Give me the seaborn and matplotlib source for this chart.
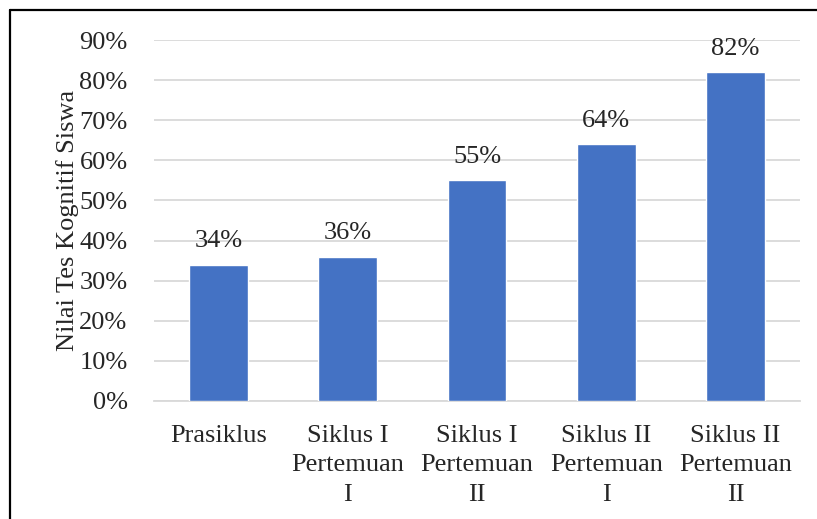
import pandas as pd
import matplotlib.pyplot as plt
import seaborn as sns
from matplotlib.lines import Line2D
from matplotlib.ticker import PercentFormatter

# Data
categories = ["Prasiklus", "Siklus I\nPertemuan\nI", "Siklus I\nPertemuan\nII",
              "Siklus II\nPertemuan\nI", "Siklus II\nPertemuan\nII"]
nilai = [34, 36, 55, 64, 82]

df = pd.DataFrame({"Tahap": categories, "Nilai": nilai})

sns.set_style("white")
plt.rcParams['font.family'] = ['Liberation Serif', 'DejaVu Serif']

fs = 19

fig = plt.figure(figsize=(8.17, 5.19), dpi=100)
ax = fig.add_axes([0.1885, 0.2274, 0.7907, 0.6955])

sns.barplot(data=df, x="Tahap", y="Nilai", color="#4472C4",
            width=0.455, saturation=1, ax=ax, zorder=3)

for c in ax.containers:
    ax.bar_label(c, labels=[f"{v}%" for v in nilai], padding=9, fontsize=fs)

ax.set_ylim(0, 90)
ax.set_yticks(range(0, 91, 10))
ax.yaxis.set_major_formatter(PercentFormatter(decimals=0))
ax.grid(axis='y', color='#d9d9d9', linewidth=1.3, zorder=0)
ax.set_axisbelow(True)

for s in ['top', 'right', 'left']:
    ax.spines[s].set_visible(False)
ax.spines['bottom'].set_color('#d9d9d9')
ax.spines['bottom'].set_linewidth(1.3)

ax.tick_params(axis='y', length=0, pad=19, labelsize=fs)
ax.tick_params(axis='x', length=0, pad=17, labelsize=fs)
for t in ax.get_xticklabels():
    t.set_linespacing(1.45)

ax.set_xlabel("")
ax.set_ylabel("Nilai Tes Kognitif Siswa", fontsize=fs, labelpad=0)

# border
fig.add_artist(Line2D([10/817, 10/817], [0, 1 - 10/519], transform=fig.transFigure,
                      color='black', linewidth=1.6))
fig.add_artist(Line2D([10/817, 1], [1 - 10/519, 1 - 10/519], transform=fig.transFigure,
                      color='black', linewidth=1.6))

fig.savefig("out.png", dpi=100)
